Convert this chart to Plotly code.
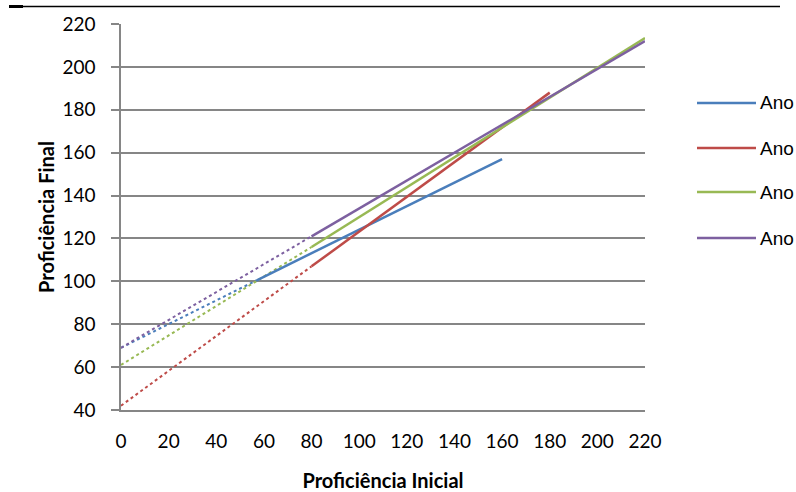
import plotly.graph_objects as go

# ---- data ----
series_names = ["Ano 1", "Ano 2", "Ano 3", "Ano 4"]
colors = ["#4A7EBB", "#BE4B48", "#98B954", "#7D60A0"]
x_origin = [0, 0, 0, 0]
y_origin = [69, 42, 61, 69]
x_solid_start = [57, 80, 80, 80]
y_solid_start = [100.5, 107, 116, 121]
x_end = [160, 180, 220, 220]
y_end = [157, 188, 213.5, 212]

x_ticks = list(range(0, 221, 20))
y_ticks = list(range(40, 221, 20))

fig = go.Figure()
for i, name in enumerate(series_names):
    # dotted backward extension
    fig.add_trace(go.Scatter(
        x=[x_origin[i], x_solid_start[i]], y=[y_origin[i], y_solid_start[i]],
        mode="lines", line=dict(color=colors[i], width=2, dash="dot"),
        showlegend=False, hoverinfo="skip"))
for i, name in enumerate(series_names):
    fig.add_trace(go.Scatter(
        x=[x_solid_start[i], x_end[i]], y=[y_solid_start[i], y_end[i]],
        mode="lines", name=name, line=dict(color=colors[i], width=2.5),
        showlegend=False))

# manual legend (paper coords)
plot_l, plot_r, plot_t, plot_b = 121, 645, 24, 410
W = plot_r - plot_l
H = plot_b - plot_t
def px(x):
    return (x - plot_l) / W
def py(y):
    return (plot_b - y) / H

shapes = []
annotations = []
legend_y = [103, 148, 192, 238]
for i, name in enumerate(series_names):
    shapes.append(dict(type="line", xref="paper", yref="paper",
                       x0=px(697), x1=px(756), y0=py(legend_y[i]), y1=py(legend_y[i]),
                       line=dict(color=colors[i], width=2.5)))
    annotations.append(dict(xref="paper", yref="paper", x=px(758), y=py(legend_y[i]),
                            text=name, showarrow=False, xanchor="left", yanchor="middle",
                            font=dict(family="Liberation Sans, Arial", size=19, color="#000000")))

# top document rule
shapes.append(dict(type="line", xref="paper", yref="paper",
                   x0=px(10), x1=px(780), y0=py(6.5), y1=py(6.5),
                   line=dict(color="#000000", width=1.5)))
shapes.append(dict(type="line", xref="paper", yref="paper",
                   x0=px(9), x1=px(23), y0=py(6.5), y1=py(6.5),
                   line=dict(color="#000000", width=3)))

fig.update_layout(
    width=796, height=492,
    margin=dict(l=plot_l, r=796 - plot_r, t=plot_t, b=492 - plot_b),
    paper_bgcolor="white", plot_bgcolor="white",
    shapes=shapes, annotations=annotations,
    showlegend=False,
    font=dict(family="Lato, Open Sans, sans-serif", color="#000000"),
)
fig.update_xaxes(
    range=[0, 220], tickvals=x_ticks, showgrid=False, zeroline=False, automargin=False,
    showline=True, linecolor="#868686", linewidth=1.5,
    ticks="", ticklabelstandoff=13, tickfont=dict(size=19, family="Lato"),
    title=dict(text="Proficiência Inicial", font=dict(size=20, family="Lato", weight="bold"), standoff=24),
)
fig.update_yaxes(
    range=[40, 220], tickvals=y_ticks, showgrid=True, gridcolor="#868686", gridwidth=1.5,
    zeroline=False, automargin=False, showline=True, linecolor="#868686", linewidth=1.5,
    ticks="outside", ticklen=8, tickcolor="#868686", tickwidth=1.5,
    ticklabelstandoff=12, tickfont=dict(size=19, family="Lato"),
    title=dict(text="Proficiência Final", font=dict(size=20, family="Lato", weight="bold"), standoff=2),
)

fig.write_html("out.html")
